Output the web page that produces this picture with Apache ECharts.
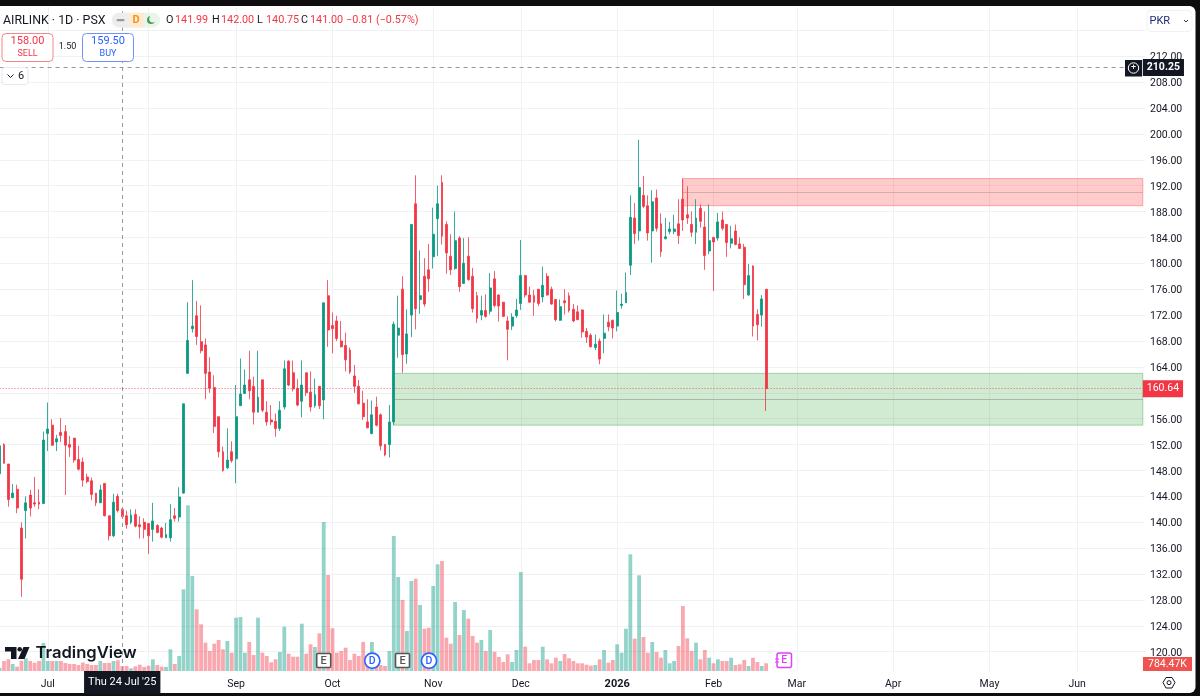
<!DOCTYPE html>
<html>
<head>
<meta charset="utf-8">
<style>
  html, body { margin: 0; padding: 0; background: #0e0e0e; }
  #chart { width: 1200px; height: 696px; }
</style>
<script src="https://cdn.jsdelivr.net/npm/echarts@6/dist/echarts.min.js"></script>
</head>
<body>
<div id="chart"></div>
<script>
// daily bars
const opens = [
  147.5,152.0,149.0,143.8,145.1,139.1,141.8,144.2,143.0,143.1,
  142.9,153.7,155.0,152.4,153.9,154.0,152.0,153.0,149.7,149.3,
  147.0,146.4,144.5,143.0,146.0,141.0,137.9,144.0,142.0,141.0,
  140.0,141.2,139.6,140.0,139.8,138.9,139.5,139.1,137.6,137.6,
  141.0,140.8,144.5,163.0,169.9,171.9,167.9,167.4,163.2,160.8,
  156.3,150.9,148.4,150.9,149.8,158.0,159.9,162.0,161.0,157.0,
  162.0,157.0,155.8,155.6,154.5,157.8,164.9,163.1,160.7,158.7,
  163.1,160.1,158.0,161.0,158.9,175.0,170.4,171.1,168.0,167.3,
  166.6,162.6,161.0,158.4,155.5,153.7,157.8,156.6,152.0,152.0,
  155.5,168.9,176.0,166.0,172.0,189.2,174.4,178.0,179.0,181.0,
  186.9,192.5,186.0,181.1,179.2,183.9,176.9,181.1,178.0,175.0,
  172.0,172.7,172.6,177.6,175.1,174.0,171.1,170.3,171.9,173.8,
  178.1,175.1,175.0,176.0,174.8,178.0,176.0,174.4,171.2,174.2,
  175.0,172.9,172.5,172.8,169.5,168.9,167.0,168.0,168.4,170.9,
  171.2,170.3,173.5,173.9,179.7,187.0,185.0,190.5,188.9,185.0,
  190.1,186.1,183.8,184.9,184.9,186.1,189.9,187.5,186.0,184.8,
  188.5,185.6,181.9,184.0,183.9,186.7,186.0,183.1,185.0,183.0,
  182.5,175.1,179.6,172.1,172.0,176.0
];
const closes = [
  151.8,149.1,143.5,144.5,142.2,131.2,143.0,142.2,142.8,142.8,
  152.7,154.4,151.9,152.9,153.4,151.9,151.6,149.6,148.2,146.5,
  146.3,144.3,143.0,145.0,141.0,137.9,143.1,141.8,140.9,139.6,
  141.1,139.4,139.3,138.9,137.9,140.2,138.4,137.7,138.1,140.4,
  140.6,143.9,158.3,168.1,170.3,168.7,166.5,163.0,160.7,154.8,
  150.9,148.0,149.6,149.5,156.3,159.8,161.2,160.3,157.0,159.3,
  157.3,155.5,155.5,154.5,157.3,163.7,161.2,160.6,158.1,161.2,
  160.0,157.8,159.7,158.0,173.9,169.7,169.9,168.4,167.1,165.1,
  163.2,161.0,158.3,156.3,154.6,156.6,155.0,151.8,150.4,155.5,
  170.6,170.0,165.9,169.1,186.0,173.0,175.0,173.7,177.6,184.5,
  189.2,184.2,181.6,179.0,183.5,176.4,180.0,177.5,173.0,171.5,
  172.7,171.8,176.2,173.5,173.4,171.8,169.8,171.7,172.8,178.1,
  175.1,174.0,174.0,173.8,176.6,175.1,173.7,171.3,173.3,173.9,
  172.7,171.1,171.3,169.4,168.6,167.1,167.5,165.2,169.2,170.2,
  170.0,172.4,173.7,175.5,187.1,184.6,191.7,188.8,184.7,189.5,
  185.4,181.8,184.1,185.3,185.3,184.3,186.7,187.0,184.8,187.0,
  186.5,181.2,183.5,183.3,186.4,185.4,183.2,183.8,182.9,182.3,
  176.7,178.1,170.3,170.5,174.5,160.64
];
const lows = [
  147.5,149.1,142.4,143.7,141.4,128.5,137.5,140.9,142.4,142.0,
  142.8,151.0,151.8,151.0,152.4,144.2,150.1,149.2,148.0,145.5,
  146.0,143.4,142.5,143.0,140.9,137.2,137.7,141.5,140.8,139.0,
  139.7,139.2,137.5,137.5,135.1,137.0,138.3,137.5,137.6,137.0,
  140.1,140.1,144.4,162.9,169.3,167.4,166.1,159.0,160.0,153.8,
  150.0,147.8,148.2,149.2,146.0,158.0,159.8,159.0,155.1,157.0,
  157.0,154.9,155.0,153.2,154.1,157.4,161.0,160.2,157.9,156.2,
  159.5,157.1,157.7,157.5,155.9,167.1,166.1,168.0,167.0,163.3,
  162.9,160.0,158.2,155.8,154.5,153.6,154.8,151.1,150.2,150.0,
  155.0,165.4,163.1,164.5,168.6,169.8,172.2,173.3,175.6,179.2,
  181.1,182.9,178.4,178.2,179.0,175.6,176.8,177.3,172.4,170.8,
  171.2,171.6,172.1,173.2,171.0,171.7,165.0,169.7,171.6,172.8,
  174.7,173.9,171.9,173.4,174.0,175.0,173.6,171.0,171.1,172.1,
  172.4,170.9,171.2,168.5,167.7,167.0,166.6,164.4,166.1,169.5,
  168.4,169.5,173.0,173.9,178.2,183.0,183.5,188.5,183.5,180.1,
  184.9,181.0,183.7,184.5,184.5,183.0,185.0,186.1,184.1,183.0,
  185.5,179.0,181.4,175.7,183.5,185.1,181.0,182.3,182.8,182.2,
  174.5,175.0,168.7,168.1,170.2,157.2
];
const highs = [
  152.8,152.2,149.0,145.9,145.8,140.0,144.0,145.0,147.0,145.1,
  154.0,158.5,155.9,153.5,156.1,155.0,153.3,153.0,151.8,150.0,
  147.5,146.9,144.5,145.8,146.0,141.0,144.4,144.4,142.1,141.8,
  142.0,142.0,140.9,140.6,139.8,143.0,139.7,139.3,139.9,142.8,
  142.2,145.4,158.3,174.0,177.4,174.2,173.5,168.4,165.5,162.7,
  156.3,151.7,154.5,152.5,161.2,165.3,163.6,166.5,162.5,166.5,
  162.0,158.7,158.1,156.8,158.7,165.0,165.0,165.0,162.1,165.0,
  163.1,163.3,162.2,161.0,173.9,177.4,172.4,171.9,171.1,169.3,
  167.0,164.3,162.0,160.3,159.0,158.8,159.4,156.8,152.1,158.1,
  171.0,175.0,178.0,172.9,186.0,193.6,182.0,180.8,183.0,188.6,
  192.0,193.6,186.5,184.5,188.0,184.2,183.9,184.0,179.3,175.6,
  175.0,175.2,178.5,178.8,175.2,174.0,171.8,172.3,174.5,183.6,
  178.2,176.4,175.9,176.0,179.5,178.5,176.4,174.4,174.4,176.0,
  175.5,173.7,173.5,172.9,170.0,169.2,169.0,168.4,172.1,172.1,
  171.3,175.8,175.3,178.6,190.5,189.3,199.1,193.5,190.5,191.3,
  191.4,187.7,187.0,186.4,187.5,189.9,193.1,191.9,188.0,189.9,
  189.1,188.0,189.1,184.1,187.8,188.0,186.0,185.8,186.0,184.0,
  183.0,179.9,179.7,172.9,175.1,176.0
];
// volume in thousands
const volumes = [
  337,1020,1193,714,439,1050,1295,1020,847,1020,
  2856,1020,1020,1020,1020,816,714,714,612,867,
  714,612,612,1020,816,816,1020,1090,510,510,
  275,480,643,408,541,1193,612,439,408,2213,
  714,1530,8333,16900,9690,6293,4763,2887,2040,2785,
  3162,2213,3060,1867,5437,5508,1867,2958,1632,5437,
  1867,1530,887,1193,1938,4519,1765,1459,1459,4825,
  1765,2723,2448,3845,15198,9792,4355,1867,2040,2377,
  1122,1765,1530,2958,1224,2958,1122,612,510,2040,
  13770,9588,7242,4080,9180,9415,6732,4315,4417,8670,
  10883,11220,3397,2785,7038,3672,6222,5335,3570,2887,
  3162,2040,4182,1969,1428,918,1703,918,2142,10098,
  2479,785,1122,1122,2479,1193,785,1357,1020,1734,
  1295,1020,785,785,643,541,612,1193,2142,847,
  1122,2723,1867,4315,11903,3295,9761,3468,1867,2958,
  1938,1357,2142,785,1020,2550,6630,3335,2040,2887,
  1193,2142,1357,785,1193,1020,1020,1357,612,683,
  1122,510,1357,918,510,784.47
];

const monthNames = ["Jul", "", "Sep", "Oct", "Nov", "Dec", "2026", "Feb", "Mar", "Apr", "May", "Jun"]; // Aug sits under the crosshair tag
const monthBars = [11, 34, 54, 76, 99, 119, 141, 163, 182, 204, 226, 246];
const barCount = 262;

const supplyZone = { from: 156, top: 193.1, bottom: 188.9, mid: 191.0 };
const demandZone = { from: 90, top: 163.0, bottom: 155.0, mid: 159.0 };
const lastPrice = 160.64;
const crossPrice = 210.25;
const crossBar = 28;

const UP = "#089981";
const DOWN = "#F23645";
const FONT = "Roboto, sans-serif";
const lastBar = barCount - 1;

const categories = new Array(barCount).fill("");
monthBars.forEach((b, i) => { categories[b] = monthNames[i] || "Aug"; });

const candles = opens.map((o, i) => [o, closes[i], lows[i], highs[i]]);
const volumeBars = volumes.map((v, i) => ({
  value: v,
  itemStyle: { color: closes[i] >= opens[i] ? "rgba(8,153,129,0.43)" : "rgba(242,54,69,0.43)" },
}));

function zoneArea(z, fill, border) {
  return [
    { xAxis: z.from, yAxis: z.top, itemStyle: { color: fill, borderColor: border, borderWidth: 1 } },
    { xAxis: lastBar, yAxis: z.bottom },
  ];
}
function zoneMid(z, color) {
  return [
    { xAxis: z.from, yAxis: z.mid, lineStyle: { color: color, width: 1, type: "solid" }, label: { show: false } },
    { xAxis: lastBar, yAxis: z.mid },
  ];
}

// ui overlay helpers
function txt(x, y, text, size, color, extra) {
  return {
    type: "text", z: 100, x: x, y: y,
    style: Object.assign({
      text: text, fill: color, font: (size + "px " + FONT), textVerticalAlign: "middle", textAlign: "left",
    }, extra || {}),
  };
}
function box(x, y, w, h, r, fill, stroke, lw) {
  return {
    type: "rect", z: 99, shape: { x: x, y: y, width: w, height: h, r: r },
    style: { fill: fill, stroke: stroke || null, lineWidth: lw || 1 },
  };
}
function circle(cx, cy, r, fill, stroke, lw) {
  return {
    type: "circle", z: 99, shape: { cx: cx, cy: cy, r: r },
    style: { fill: fill, stroke: stroke || null, lineWidth: lw || 1 },
  };
}
function eventE(x, color) {
  return [
    box(x, 653.5, 14, 14, 1, "#fff", color, 1.6),
    txt(x + 7, 660.8, "E", 11, color, { textAlign: "center", font: "500 11px " + FONT }),
  ];
}
function eventD(cx) {
  return [
    circle(cx, 660.7, 7.6, "#fff", "#2962FF", 1.6),
    txt(cx, 661, "D", 10.5, "#2962FF", { textAlign: "center", font: "500 10.5px " + FONT }),
  ];
}

const overlay = [
  { type: "rect", z: -1, shape: { x: -6, y: 6, width: 1201.5, height: 687, r: 6 }, style: { fill: "#fff" } },

  // legend line
  txt(3, 20.5, "AIRLINK · 1D · PSX", 12.4, "#131722"),
  box(112, 12.8, 48, 14.6, 7, "#E9F5EA"),
  box(112, 12.8, 17, 14.6, [7, 0, 0, 7], "#EDEDED"),
  box(129, 12.8, 15, 14.6, 0, "#FDEBD3"),
  box(116.5, 19, 8, 2.2, 1, "#9A9A9A"),
  txt(136, 20.5, "D", 11, "#F7931A", { textAlign: "center", font: "700 11px " + FONT }),
  circle(151, 20, 4, "#43A047"),
  circle(152.6, 19, 3.4, "#E9F5EA"),
  txt(166, 20.5, "O", 10.8, "#131722"),
  txt(175, 20.5, "141.99", 10.8, DOWN),
  txt(212, 20.5, "H", 10.8, "#131722"),
  txt(221, 20.5, "142.00", 10.8, DOWN),
  txt(257, 20.5, "L", 10.8, "#131722"),
  txt(266, 20.5, "140.75", 10.8, DOWN),
  txt(301, 20.5, "C", 10.8, "#131722"),
  txt(310, 20.5, "141.00", 10.8, DOWN),
  txt(346, 20.5, "−0.81", 10.8, DOWN),
  txt(376, 20.5, "(−0.57%)", 10.8, DOWN),

  // sell / buy
  box(2, 33.5, 51, 28, 4, "#fff", "#F7868D", 1),
  txt(27.5, 41.5, "158.00", 11, DOWN, { textAlign: "center" }),
  txt(27.5, 54, "SELL", 9, DOWN, { textAlign: "center" }),
  txt(67.5, 47, "1.50", 9, "#131722", { textAlign: "center" }),
  box(82.5, 33.5, 51, 28, 4, "#fff", "#6F93FA", 1),
  txt(108, 41.5, "159.50", 11, "#2962FF", { textAlign: "center" }),
  txt(108, 54, "BUY", 9, "#2962FF", { textAlign: "center" }),

  // collapsed indicators
  box(2, 67.5, 26, 17, 3, "#fff", "#E6E8EE", 1),
  { type: "polyline", z: 100, shape: { points: [[7.5, 74.5], [10.5, 77.5], [13.5, 74.5]] }, style: { fill: null, stroke: "#131722", lineWidth: 1 } },
  txt(18, 76.5, "6", 11, "#131722"),

  // currency button
  box(1147, 10.5, 45, 21, 4, "#fff", "#F0F1F4", 1),
  txt(1149.5, 21, "PKR", 11, "#1E2A78"),
  { type: "polyline", z: 100, shape: { points: [[1184, 20], [1186, 22], [1188, 20]] }, style: { fill: null, stroke: "#333", lineWidth: 1 } },

  // crosshair plus button
  box(1125, 60, 17, 16.5, 0, "#131722"),
  circle(1133.5, 68, 5.2, "none", "#fff", 1),
  txt(1133.5, 68, "+", 9, "#fff", { textAlign: "center" }),

  // volume tag and settings
  box(1143, 657, 49, 14, 0, "#EF5350"),
  txt(1167.5, 664.3, "784.47K", 10.5, "#fff", { textAlign: "center" }),
  {
    type: "polygon", z: 100,
    shape: { points: [[1163, 682.5], [1166, 677.5], [1172, 677.5], [1175, 682.5], [1172, 688], [1166, 688]] },
    style: { fill: null, stroke: "#131722", lineWidth: 1 },
  },
  circle(1169, 682.7, 2, "none", "#131722", 1),

  // events
  ...eventE(316.7, "#555"),
  ...eventD(372.3),
  ...eventE(395.5, "#555"),
  ...eventD(429),
  box(777, 653, 14.5, 14.5, 2, "#fff", "#E040FB", 1.5),
  txt(784.3, 660.7, "E", 10.5, "#E040FB", { textAlign: "center", font: "500 10.5px " + FONT }),
  { type: "line", z: 100, shape: { x1: 775, y1: 659, x2: 779, y2: 659 }, style: { stroke: "#E040FB", lineWidth: 1 } },
  { type: "line", z: 100, shape: { x1: 775, y1: 662, x2: 779, y2: 662 }, style: { stroke: "#E040FB", lineWidth: 1 } },

  // logo
  { type: "polygon", z: 100, shape: { points: [[5, 647], [16.5, 647], [16.5, 659], [11, 659], [11, 651.5], [5, 651.5]] }, style: { fill: "#131722" } },
  circle(19.7, 649.2, 2.3, "#131722"),
  { type: "polygon", z: 100, shape: { points: [[23.5, 647], [29.5, 647], [24.5, 659], [18, 659]] }, style: { fill: "#131722" } },
  txt(35.5, 653, "TradingView", 16.6, "#131722", { font: "600 16.6px Inter, " + FONT }),
];

const chart = echarts.init(document.getElementById("chart"));
chart.setOption({
  backgroundColor: "#0e0e0e",
  animation: false,
  textStyle: { fontFamily: FONT },
  grid: [
    { left: -2.6, width: 1147.6, top: 30.3, height: 621.4, outerBoundsMode: "none" },
    { left: -2.6, width: 1147.6, top: 7, height: 664, outerBoundsMode: "none" },
  ],
  xAxis: [
    {
      type: "category", gridIndex: 0, data: categories, show: false, boundaryGap: true,
    },
    {
      type: "category", gridIndex: 1, data: categories, boundaryGap: true,
      axisLine: { show: false },
      axisTick: { show: false },
      axisLabel: {
        interval: (i) => monthBars.includes(i),
        margin: 8,
        fontSize: 10.5,
        color: "#131722",
        fontFamily: FONT,
        formatter: (v) => {
          if (v === "Aug") return "";
          return v === "2026" ? "{b|2026}" : v;
        },
        rich: { b: { fontWeight: 700, fontSize: 11, color: "#131722", fontFamily: FONT } },
      },
      splitLine: {
        show: true,
        alignWithLabel: true,
        interval: (i) => monthBars.includes(i),
        lineStyle: { color: "#F0F1F3", width: 1 },
      },
    },
  ],
  yAxis: [
    {
      type: "value", gridIndex: 0, position: "right", min: 120, max: 216, interval: 4,
      axisLine: { show: false },
      axisTick: { show: false },
      axisLabel: {
        inside: false, margin: 5, fontSize: 10.5, color: "#131722", fontFamily: FONT,
        verticalAlign: "top", lineHeight: 3,
        // 216 sits behind the currency button, 160 behind the last price tag
        formatter: (v) => (v >= 216 || v === 160 ? "" : v.toFixed(2)),
      },
      splitLine: { lineStyle: { color: "#F0F1F3", width: 1 } },
    },
    {
      type: "value", gridIndex: 1, min: 0, max: 67728, show: false,
    },
  ],
  series: [
    {
      name: "Volume", type: "bar", xAxisIndex: 1, yAxisIndex: 1, data: volumeBars, barWidth: 3.8, z: 1,
      markLine: {
        silent: true, symbol: "none", animation: false,
        data: [{
          xAxis: crossBar,
          lineStyle: { color: "#9598A1", type: [4, 4], width: 1 },
          label: {
            show: true, position: "start", formatter: "Thu 24 Jul '25", color: "#fff",
            backgroundColor: "#131722", padding: [6, 4, 6, 4], fontSize: 11, distance: 0, fontFamily: FONT,
          },
        }],
      },
    },
    {
      name: "AIRLINK", type: "candlestick", xAxisIndex: 0, yAxisIndex: 0, data: candles, barWidth: 2.4, z: 3,
      itemStyle: { color: UP, color0: DOWN, borderColor: "rgba(8,153,129,0.8)", borderColor0: "rgba(242,54,69,0.8)", borderWidth: 1 },
      markArea: {
        silent: true,
        data: [
          zoneArea(supplyZone, "rgba(255,82,82,0.3)", "rgba(255,82,82,0.45)"),
          zoneArea(demandZone, "rgba(76,175,80,0.26)", "rgba(76,175,80,0.45)"),
        ],
      },
      markLine: {
        silent: true, symbol: "none", animation: false,
        data: [
          zoneMid(supplyZone, "rgba(120,120,120,0.35)"),
          zoneMid(demandZone, "rgba(120,120,120,0.45)"),
          [
            {
              xAxis: 0, yAxis: lastPrice,
              lineStyle: { color: "rgba(242,54,69,0.8)", type: [1, 2], width: 1 },
              label: {
                show: true, position: "end", formatter: lastPrice.toFixed(2), color: "#fff",
                backgroundColor: DOWN, padding: [3, 4, 3, 4], fontSize: 10.5, distance: 0, fontFamily: FONT,
              },
            },
            { xAxis: lastBar, yAxis: lastPrice },
          ],
          [
            {
              xAxis: 0, yAxis: crossPrice,
              lineStyle: { color: "#9598A1", type: [4, 4], width: 1 },
              label: {
                show: true, position: "end", formatter: crossPrice.toFixed(2), color: "#fff",
                backgroundColor: "#131722", padding: [3, 4, 3, 4], fontSize: 10.5, fontWeight: 700, distance: 0, fontFamily: FONT,
              },
            },
            { xAxis: lastBar, yAxis: crossPrice },
          ],
        ],
      },
    },
  ],
  graphic: { elements: overlay },
});
</script>
</body>
</html>
